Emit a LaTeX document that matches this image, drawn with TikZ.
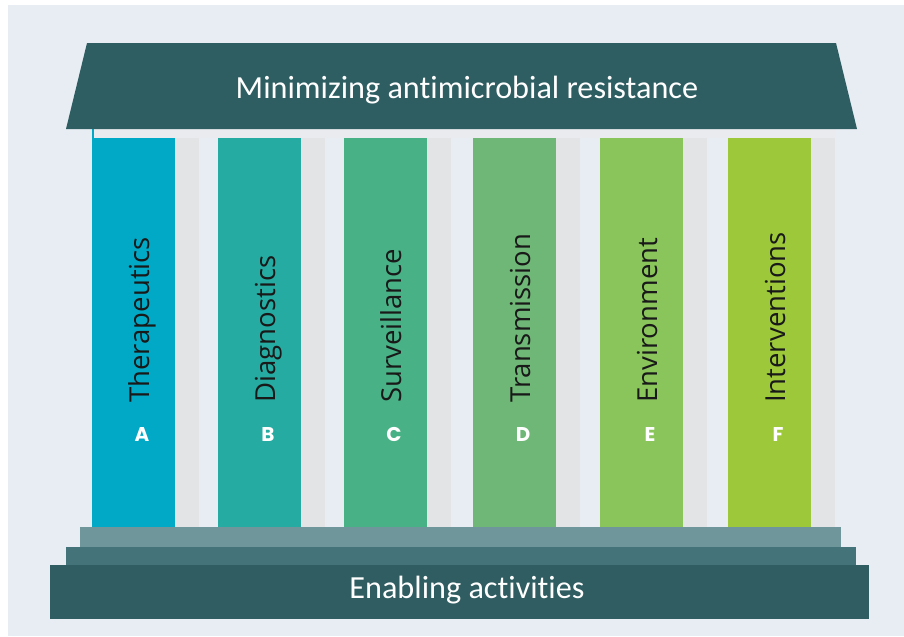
\documentclass[tikz,border=0pt]{standalone}
\usepackage{fontspec}
\setmainfont{Carlito}[Ligatures=NoCommon]
\newfontfamily\pillarfont{Open Sans}
\newfontfamily\letterfont{Poppins}
\usepackage{xcolor}

\definecolor{bgcol}{HTML}{E7EDF3}
\definecolor{roofcol}{HTML}{2F5E62}
\definecolor{bandcol}{HTML}{EAEBEE}
\definecolor{shadecol}{HTML}{E3E4E6}
\definecolor{stepone}{HTML}{6F969A}
\definecolor{steptwo}{HTML}{45737A}
\definecolor{stepthree}{HTML}{2F5D61}
\definecolor{colA}{HTML}{02A9C6}
\definecolor{colB}{HTML}{25ABA1}
\definecolor{colC}{HTML}{48B186}
\definecolor{colD}{HTML}{6EB776}
\definecolor{colE}{HTML}{89C55A}
\definecolor{colF}{HTML}{9CC83A}

\begin{document}
\begin{tikzpicture}[
    x=0.03cm, y=-0.03cm,
    title/.style={text=white, anchor=base, inner sep=0pt, font=\fontsize{27.5}{30}\selectfont},
    pillarlabel/.style={rotate=90, anchor=base west, inner sep=0pt, text=black!90, font=\pillarfont\fontsize{23.5}{26}\selectfont},
    letter/.style={text=white, inner sep=0pt, font=\letterfont\bfseries\fontsize{17}{20}\selectfont}
]
    \useasboundingbox (0,0) rectangle (904,636);
    \fill[white] (0,0) rectangle (904,636);
    \fill[bgcol] (8,5) rectangle (904,636);

    % colonnade behind the pillars
    \fill[bandcol] (92,128) rectangle (836,138);
    \foreach \left/\col/\name/\id in {92/colA/Therapeutics/A, 218/colB/Diagnostics/B,
        344/colC/Surveillance/C, 473/colD/Transmission/D, 600/colE/Environment/E, 728/colF/Interventions/F}
    {
        \fill[shadecol] (\left+83,138) rectangle ++(24,391);
        \fill[\col] (\left,138) rectangle ++(83,390);
        \node[pillarlabel] (lab\id) at (\left+57,403) {\name};
        \node[letter] (let\id) at (\left+50,434) {\id};
    }
    \fill[colA] (92,128) rectangle (93.5,138);

    % roof
    \fill[roofcol] (87,43) -- (836,43) -- (857,129) -- (66,129) -- cycle;
    \node[title] (roof) at (467,98) {Minimizing antimicrobial resistance};

    % steps
    \fill[stepone] (80,527) rectangle (841,547);
    \fill[steptwo] (66,547) rectangle (856,565);
    \fill[stepthree] (50,565) rectangle (869,619);
    \node[title] (base) at (467,598) {Enabling activities};
\end{tikzpicture}
\end{document}
